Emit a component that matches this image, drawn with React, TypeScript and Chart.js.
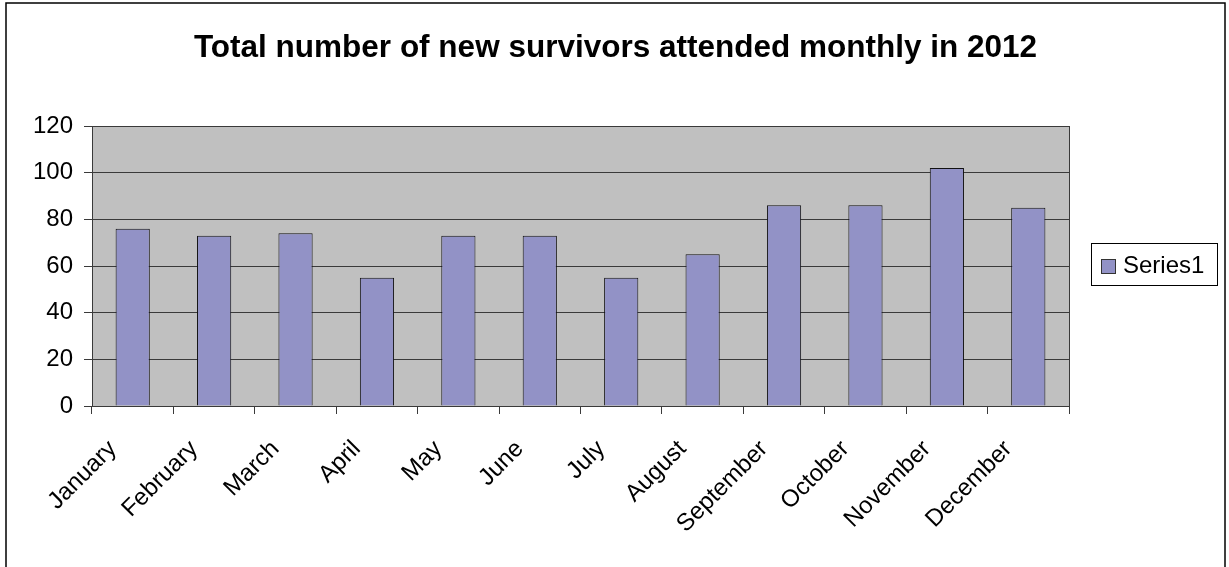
import React, { useEffect, useRef } from "react";
import { Chart, registerables } from "chart.js";

Chart.register(...registerables);

const TITLE = "Total number of new survivors attended monthly in 2012";
const SERIES_NAME = "Series1";
const MONTHS = [
  "January", "February", "March", "April", "May", "June",
  "July", "August", "September", "October", "November", "December",
];
const SURVIVORS = [76, 73, 74, 55, 73, 73, 55, 65, 86, 86, 102, 85];
const Y_TICKS = [0, 20, 40, 60, 80, 100, 120];

const FONT = "'Liberation Sans', Arial, sans-serif";
const BAR_FILL = "#9292C6";
const PLOT_BG = "#C0C0C0";
const LINE = "#3a3a3a";

// Frame, plot background, title and legend box drawn around the scales.
const decorations = {
  id: "decorations",
  beforeDraw(chart: any) {
    const { ctx, chartArea } = chart;
    ctx.save();
    ctx.fillStyle = "#ffffff";
    ctx.fillRect(0, 0, chart.width, chart.height);
    ctx.fillStyle = PLOT_BG;
    ctx.fillRect(
      chartArea.left,
      chartArea.top,
      chartArea.right - chartArea.left,
      chartArea.bottom - chartArea.top
    );
    ctx.restore();
  },
  afterDraw(chart: any) {
    const { ctx, chartArea } = chart;
    ctx.save();
    // outer frame
    ctx.strokeStyle = "#000";
    ctx.lineWidth = 1.5;
    ctx.strokeRect(6, 3, 1219, 580);
    // plot border
    ctx.strokeStyle = LINE;
    ctx.lineWidth = 1;
    ctx.strokeRect(
      Math.round(chartArea.left) + 0.5,
      Math.round(chartArea.top) + 0.5,
      Math.round(chartArea.right - chartArea.left),
      Math.round(chartArea.bottom - chartArea.top)
    );
    // title
    ctx.fillStyle = "#000";
    ctx.font = `bold 31.5px ${FONT}`;
    ctx.textAlign = "center";
    ctx.textBaseline = "alphabetic";
    ctx.fillText(TITLE, 615.5, 57);
    // legend
    const lx = 1091, ly = 243, lw = 126, lh = 42;
    ctx.fillStyle = "#fff";
    ctx.fillRect(lx, ly, lw, lh);
    ctx.strokeStyle = "#000";
    ctx.lineWidth = 1;
    ctx.strokeRect(lx + 0.5, ly + 0.5, lw, lh);
    ctx.fillStyle = BAR_FILL;
    ctx.fillRect(1101, 259, 15, 15);
    ctx.strokeStyle = "#333";
    ctx.strokeRect(1101.5, 259.5, 14, 14);
    ctx.fillStyle = "#000";
    ctx.font = `24px ${FONT}`;
    ctx.textAlign = "left";
    ctx.textBaseline = "middle";
    ctx.fillText(SERIES_NAME, 1123, 266);
    ctx.restore();
  },
};

export default function App() {
  const canvasRef = useRef<HTMLCanvasElement | null>(null);

  useEffect(() => {
    document.body.style.margin = "0";
    const canvas = canvasRef.current;
    if (!canvas) return;
    const chart = new Chart(canvas, {
      type: "bar",
      data: {
        labels: MONTHS,
        datasets: [
          {
            label: SERIES_NAME,
            data: SURVIVORS,
            backgroundColor: BAR_FILL,
            borderColor: "#111",
            borderWidth: 1,
            barPercentage: 0.42,
            categoryPercentage: 1,
          },
        ],
      },
      options: {
        animation: false,
        responsive: false,
        devicePixelRatio: 1,
        layout: { padding: { left: 0, top: 126, right: 160, bottom: 0 } },
        plugins: {
          legend: { display: false },
          title: { display: false },
          tooltip: { enabled: false },
        },
        scales: {
          x: {
            afterFit(scale: any) {
              scale.height = 161;
            },
            grid: {
              display: true,
              offset: true,
              drawOnChartArea: false,
              drawTicks: true,
              tickLength: 8,
              color: LINE,
              tickColor: LINE,
            },
            border: { display: true, color: LINE, width: 1 },
            ticks: {
              autoSkip: false,
              minRotation: 45,
              maxRotation: 45,
              padding: 21,
              labelOffset: -20,
              color: "#000",
              font: { family: FONT, size: 24 },
            },
          },
          y: {
            min: 0,
            max: 120,
            afterFit(scale: any) {
              scale.width = 92;
            },
            afterBuildTicks(scale: any) {
              scale.ticks = Y_TICKS.map((v) => ({ value: v }));
            },
            grid: {
              color: LINE,
              tickColor: LINE,
              tickLength: 8,
              lineWidth: 1,
            },
            border: { display: true, color: LINE, width: 1 },
            ticks: {
              padding: 11,
              color: "#000",
              font: { family: FONT, size: 24 },
            },
          },
        },
      },
      plugins: [decorations],
    });
    return () => chart.destroy();
  }, []);

  return <canvas ref={canvasRef} width={1229} height={567} style={{ display: "block" }} />;
}
